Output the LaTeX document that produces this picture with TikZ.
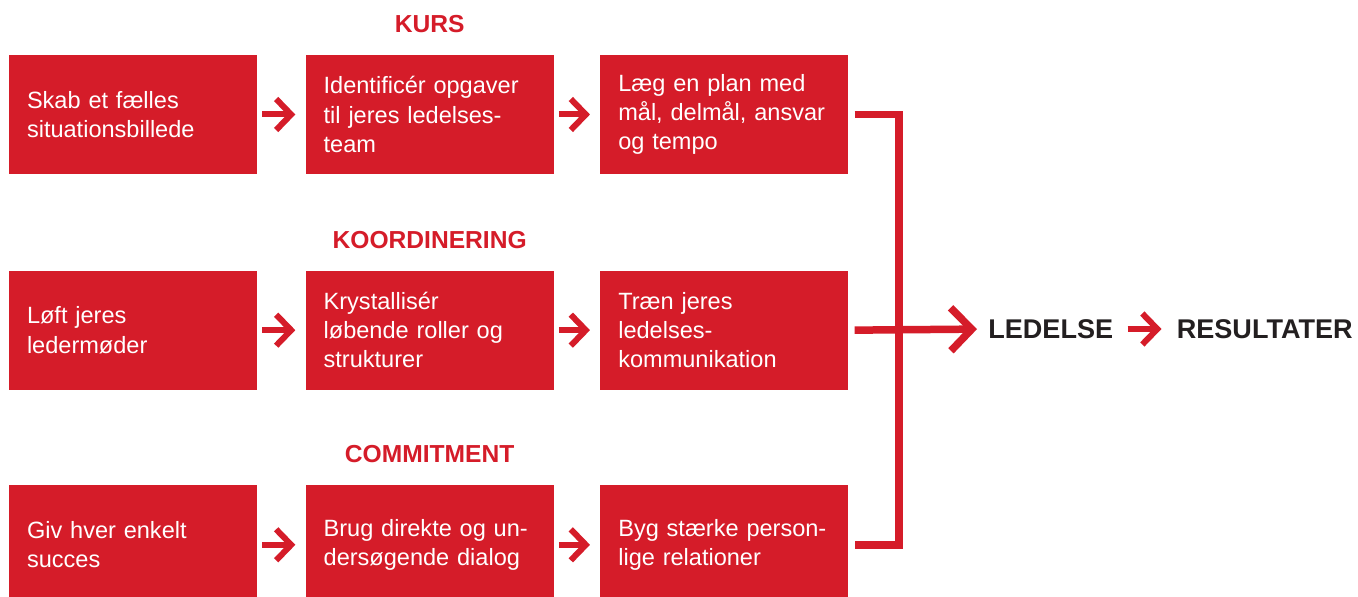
\documentclass[tikz,border=0pt]{standalone}
\usepackage{fontspec}
\setmainfont{Liberation Sans}
\usepackage{xcolor}
\usetikzlibrary{arrows.meta, positioning}

\definecolor{ledred}{RGB}{213,28,41}
\definecolor{ledblack}{RGB}{35,31,32}

\tikzset{
  box/.style={fill=ledred, text=white, text width=4.24cm, inner xsep=0.36cm,
    inner ysep=0pt, minimum height=2.38cm, align=left,
    font=\fontsize{13.4}{16.6}\selectfont},
  heading/.style={text=ledred, inner sep=0pt, font=\bfseries\fontsize{14}{16}\selectfont},
  result/.style={text=ledblack, inner sep=0pt, font=\bfseries\fontsize{15.4}{18}\selectfont},
  flow/.style={draw=ledred, line width=0.12cm,
    -{Straight Barb[length=0.3cm, width=0.62cm]},
    shorten <=0.1cm, shorten >=0.2cm},
  bus/.style={draw=ledred, line width=0.15cm},
  lead/.style={draw=ledred, line width=0.15cm,
    -{Straight Barb[length=0.42cm, width=0.86cm]}, shorten >=0.22cm}
}

\begin{document}
\begin{tikzpicture}[x=0.02cm, y=-0.02cm]
    \clip (0,0) rectangle (1358,597);
    \fill[white] (0,0) rectangle (1358,597);

    % row 1
    \node[box] (b11) at (133,114.5) {Skab et fælles\\situationsbillede};
    \node[box, right=0.96cm of b11] (b12) {Identificér opgaver\\til jeres ledelses-\\team};
    \node[box, right=0.92cm of b12] (b13) {Læg en plan med\\mål, delmål, ansvar\\og tempo};

    % row 2
    \node[box, below=1.92cm of b11] (b21) {Løft jeres\\ledermøder};
    \node[box, below=1.92cm of b12] (b22) {Krystallisér\\løbende roller og\\strukturer};
    \node[box, below=1.92cm of b13] (b23) {Træn jeres\\ledelses-\\kommunikation};

    % row 3
    \node[box, below=1.9cm of b21] (b31) {Giv hver enkelt\\succes};
    \node[box, below=1.9cm of b22] (b32) {Brug direkte og un-\\dersøgende dialog};
    \node[box, below=1.9cm of b23] (b33) {Byg stærke person-\\lige relationer};

    % row headings
    \node[heading, above=0.44cm of b12] (kurs) {KURS};
    \node[heading, above=0.43cm of b22] (koord) {KOORDINERING};
    \node[heading, above=0.43cm of b32] (commit) {COMMITMENT};

    % arrows inside each row
    \foreach \r in {1,2,3}{
      \draw[flow] (b\r1.east) -- (b\r2.west);
      \draw[flow] (b\r2.east) -- (b\r3.west);
    }

    % outcome
    \node[result, anchor=west] (ledelse) at (988,329) {LEDELSE};
    \node[result, right=1.26cm of ledelse] (resultater) {RESULTATER};
    \coordinate (hub) at (899,329);

    \draw[bus] ([xshift=0.12cm]b13.east) -| (hub) |- ([xshift=0.12cm]b33.east);
    \draw[lead] ([xshift=0.12cm]b23.east) -- (ledelse.west);
    \draw[flow, shorten <=0.28cm, shorten >=0.3cm] (ledelse.east) -- (resultater.west);
\end{tikzpicture}
\end{document}
